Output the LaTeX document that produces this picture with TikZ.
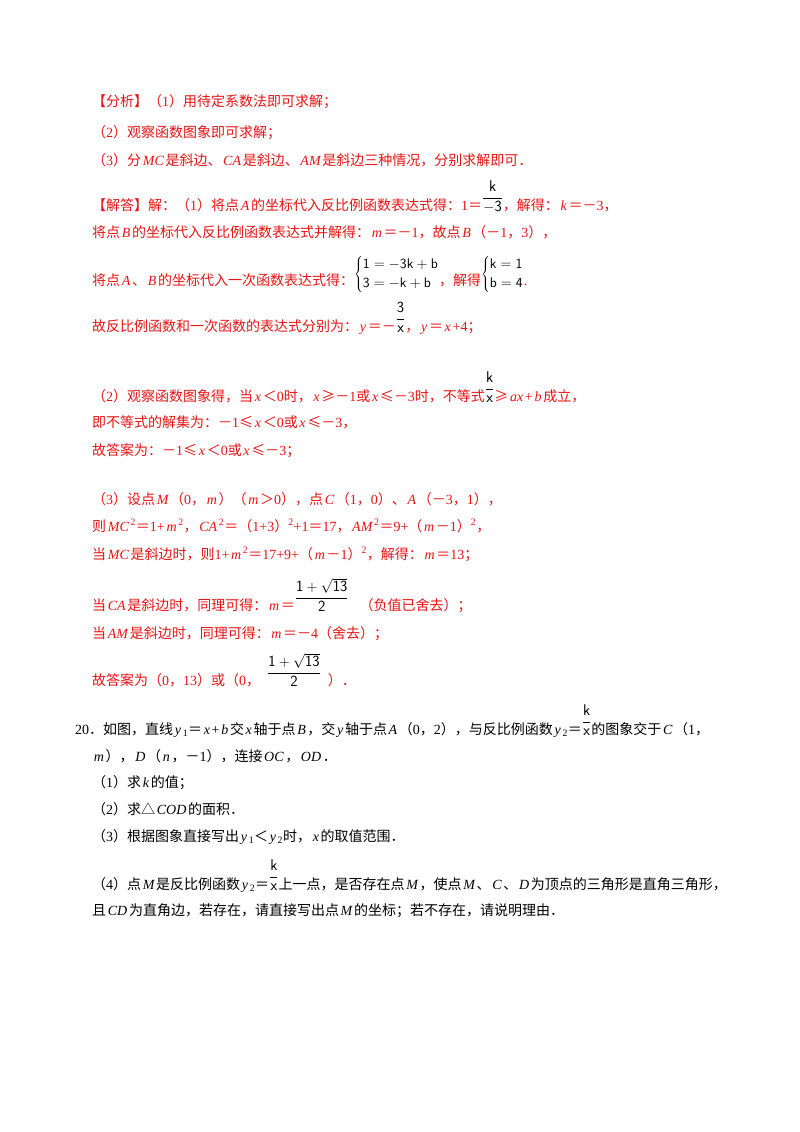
\documentclass[tikz,border=0pt]{standalone}
\usepackage{fontspec}
\setmainfont{Liberation Serif}
\newfontfamily\cjk{Noto Sans CJK SC}
\newfontfamily\lat{Liberation Serif}
\definecolor{ansred}{RGB}{232,20,20}
\newcommand\V[1]{\hspace{0.12em}{\lat\itshape #1}\hspace{0.12em}}
\newcommand\N[1]{{\lat #1}}
\newcommand\fr[2]{\textcolor{black}{\raisebox{0.6em}{\fontsize{15.5}{18}\selectfont$\displaystyle\frac{\mathsf{#1}}{\mathsf{#2}}$}}}
\newcommand\sys[2]{\textcolor{black}{\raisebox{0.5em}{$\left\{\begin{array}{@{}l@{}}\mathsf{#1}\\[3pt]\mathsf{#2}\end{array}\right.$}}}
\tikzset{t/.style={anchor=base west, inner sep=0pt, font=\cjk\fontsize{14}{16}\selectfont, text=ansred},
 q/.style={t, text=black}}
\begin{document}
\begin{tikzpicture}[x=1pt,y=1pt]
\useasboundingbox[fill=white] (0,0) rectangle (800,-1132);
\node[t] (l1) at (92,-106) {【分析】（\N{1}）用待定系数法即可求解；};
\node[t] (l2) at (92,-137) {（\N{2}）观察函数图象即可求解；};
\node[t] (l3) at (92,-165) {（\N{3}）分\V{MC}是斜边、\V{CA}是斜边、\V{AM}是斜边三种情况，分别求解即可．};
\node[t] (l4) at (92,-210) {【解答】解：（\N{1}）将点\V{A}的坐标代入反比例函数表达式得：\N{1}＝\fr{k}{-3}，解得：\V{k}＝－\N{3}，};
\node[t] (l5) at (92,-237) {将点\V{B}的坐标代入反比例函数表达式并解得：\V{m}＝－\N{1}，故点\V{B}（－\N{1}，\N{3}），};
\node[t] (l6) at (92,-285) {将点\V{A}、\V{B}的坐标代入一次函数表达式得：\sys{1=-3k+b}{3=-k+b}，解得\sys{k=1}{b=4}\N{.}};
\node[t] (l7) at (92,-331) {故反比例函数和一次函数的表达式分别为：\V{y}＝－\fr{3}{x}，\V{y}＝\V{x}\N{+4}；};
\node[t] (l8) at (92,-401) {（\N{2}）观察函数图象得，当\V{x}＜\N{0}时，\V{x}≥－\N{1}或\V{x}≤－\N{3}时，不等式\fr{k}{x}≥\V{ax}\N{+}\V{b}成立，};
\node[t] (l9) at (92,-427) {即不等式的解集为：－\N{1}≤\V{x}＜\N{0}或\V{x}≤－\N{3}，};
\node[t] (l10) at (92,-455) {故答案为：－\N{1}≤\V{x}＜\N{0}或\V{x}≤－\N{3}；};
\node[t] (l11) at (92,-504) {（\N{3}）设点\V{M}（\N{0}，\V{m}）（\V{m}＞\N{0}），点\V{C}（\N{1}，\N{0}）、\V{A}（－\N{3}，\N{1}），};
\node[t] (l12) at (92,-531) {则\V{MC}\textsuperscript{\N{2}}＝\N{1+}\V{m}\textsuperscript{\N{2}}，\V{CA}\textsuperscript{\N{2}}＝（\N{1+3}）\textsuperscript{\N{2}}\N{+1}＝\N{17}，\V{AM}\textsuperscript{\N{2}}＝\N{9+}（\V{m}－\N{1}）\textsuperscript{\N{2}}，};
\node[t] (l13) at (92,-559) {当\V{MC}是斜边时，则\N{1+}\V{m}\textsuperscript{\N{2}}＝\N{17+9+}（\V{m}－\N{1}）\textsuperscript{\N{2}}，解得：\V{m}＝\N{13}；};
\node[t] (l14) at (92,-610) {当\V{CA}是斜边时，同理可得：\V{m}＝\fr{1+\sqrt{13}}{2}\hspace{0.8em}（负值已舍去）；};
\node[t] (l15) at (92,-638) {当\V{AM}是斜边时，同理可得：\V{m}＝－\N{4}（舍去）；};
\node[t] (l16) at (92,-685) {故答案为（\N{0}，\N{13}）或（\N{0}，\hspace{0.5em}\fr{1+\sqrt{13}}{2}\hspace{0.5em}）．};
\node[q] (q1) at (75,-734) {\N{20}．如图，直线\V{y}\textsubscript{\N{1}}＝\V{x}\N{+}\V{b}交\V{x}轴于点\V{B}，交\V{y}轴于点\V{A}（\N{0}，\N{2}），与反比例函数\V{y}\textsubscript{\N{2}}＝\fr{k}{x}的图象交于\V{C}（\N{1}，};
\node[q] (q2) at (92,-761) {\V{m}），\V{D}（\V{n}，－\N{1}），连接\V{OC}，\V{OD}．};
\node[q] (q3) at (92,-787) {（\N{1}）求\V{k}的值；};
\node[q] (q4) at (92,-814) {（\N{2}）求△\V{COD}的面积．};
\node[q] (q5) at (92,-841) {（\N{3}）根据图象直接写出\V{y}\textsubscript{\N{1}}＜\V{y}\textsubscript{\N{2}}时，\V{x}的取值范围．};
\node[q] (q6) at (92,-889) {（\N{4}）点\V{M}是反比例函数\V{y}\textsubscript{\N{2}}＝\fr{k}{x}上一点，是否存在点\V{M}，使点\V{M}、\V{C}、\V{D}为顶点的三角形是直角三角形，};
\node[q] (q7) at (92,-915) {且\V{CD}为直角边，若存在，请直接写出点\V{M}的坐标；若不存在，请说明理由．};
\end{tikzpicture}
\end{document}
